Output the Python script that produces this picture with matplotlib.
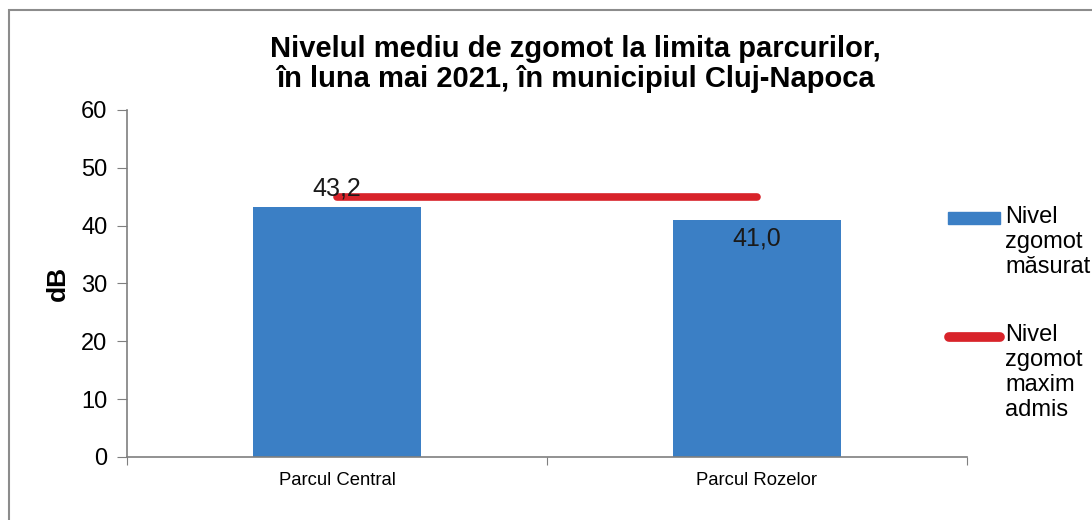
import matplotlib.pyplot as plt
from matplotlib.lines import Line2D
from matplotlib.patches import Rectangle

plt.rcParams['font.family'] = ['Liberation Sans', 'DejaVu Sans']

# measured noise level per park (dB) and the admitted maximum
parks = ['Parcul Central', 'Parcul Rozelor']
measured = [43.2, 41.0]
max_admis = [45, 45]
legend_labels = ['Nivel\nzgomot\nmăsurat', 'Nivel\nzgomot\nmaxim\nadmis']
title = 'Nivelul mediu de zgomot la limita parcurilor,\nîn luna mai 2021, în municipiul Cluj-Napoca'

blue = '#3b7fc5'
red = '#d8232a'
grey = '#7f7f7f'

fig = plt.figure(figsize=(10.92, 5.2), dpi=100)
ax = fig.add_axes([0.1163, 0.1212, 0.7692, 0.6673])

x = list(range(len(parks)))
ax.bar(x, measured, width=0.4, color=blue, zorder=2)
ax.plot(x, max_admis, color=red, lw=5.5, solid_capstyle='round', zorder=3)

# value labels, 43,2 sits above the limit line, 41,0 inside its bar
label_y = [measured[0] + 3.3, measured[1] - 3.3]
for xi, v, ly in zip(x, measured, label_y):
    ax.text(xi, ly, f'{v:.1f}'.replace('.', ','), ha='center', va='center',
            fontsize=18, color='#1a1a1a', zorder=4)

ax.set_xlim(-0.5, len(parks) - 0.5)
ax.set_ylim(0, 60)
ax.set_yticks(range(0, 61, 10))
ax.set_xticks([i - 0.5 for i in range(len(parks) + 1)])
ax.set_xticklabels([])
ax.set_xticks(x, minor=True)
ax.set_xticklabels(parks, minor=True, fontsize=13.3)
ax.tick_params(axis='x', which='minor', length=0, pad=11)
ax.tick_params(axis='x', which='major', length=6, color=grey)
ax.tick_params(axis='y', length=7, color=grey, labelsize=17, pad=7)

for side in ['top', 'right']:
    ax.spines[side].set_visible(False)
for side in ['left', 'bottom']:
    ax.spines[side].set_color(grey)
    ax.spines[side].set_linewidth(1.2)

ax.set_ylabel('dB', fontsize=19, fontweight='bold', labelpad=8)
fig.text(0.527, 0.877, title, ha='center', va='center', fontsize=21,
         fontweight='bold', linespacing=1.1)

# legend drawn by hand so the keys line up with the first text line
fig.add_artist(Rectangle((948 / 1092, 1 - 224 / 520), 52 / 1092, 12 / 520,
                         transform=fig.transFigure, color=blue))
fig.add_artist(Line2D([949 / 1092, 1000 / 1092], [1 - 337 / 520] * 2,
                      transform=fig.transFigure, color=red, lw=7,
                      solid_capstyle='round'))
for lab, ytop in zip(legend_labels, [206, 324]):
    fig.text(1005 / 1092, 1 - ytop / 520, lab, ha='left', va='top',
             fontsize=17, linespacing=1.18)

# outer chart frame
fig.add_artist(Rectangle((9 / 1092, -0.1), 1.2, 1 - 10 / 520 + 0.1,
                         transform=fig.transFigure, fill=False,
                         edgecolor='#8c8c8c', lw=1.5))

fig.savefig('out.png', dpi=100)
